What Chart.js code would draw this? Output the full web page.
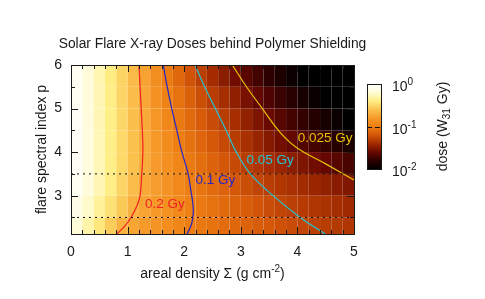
<!DOCTYPE html>
<html>
<head>
<meta charset="utf-8">
<script src="https://cdn.jsdelivr.net/npm/chart.js@4.4.1/dist/chart.umd.min.js"></script>
<style>
  body { margin: 0; background: #fff; }
  #wrap { position: relative; width: 485px; height: 299px; }
  #wrap canvas { position: absolute; left: 0; top: 0; }
</style>
</head>
<body>
<div id="wrap">
  <canvas id="main" width="485" height="299"></canvas>
  <canvas id="cbar" width="485" height="299"></canvas>
</div>
<script>
// heat map cells: sigma edges (g cm^-2), spectral index edges, dose rows (Gy) bottom -> top
const sigmaEdges = [0, 0.2, 0.4, 0.6, 0.8, 1, 1.2, 1.4, 1.6, 1.8, 2, 2.2, 2.4, 2.6, 2.8, 3, 3.2, 3.4, 3.6, 3.8, 4, 4.2, 4.4, 4.6, 4.8, 5];
const pEdges = [2.12, 2.5, 3, 3.5, 4, 4.5, 5, 5.5, 6];
const dose = [
  [0.657,0.493,0.371,0.278,0.209, 0.181,0.161,0.143,0.127,0.112, 0.100,0.0938,0.0881,0.0826,0.0774, 0.0726,0.0682,0.0640,0.0600,0.0562, 0.0528,0.0498,0.0480,0.0462,0.0446],
  [0.764,0.589,0.454,0.350,0.270, 0.208,0.178,0.156,0.136,0.119, 0.104,0.0943,0.0866,0.0797,0.0733, 0.0674,0.0620,0.0570,0.0524,0.0490, 0.0467,0.0445,0.0424,0.0404,0.0385],
  [0.877,0.676,0.520,0.400,0.308, 0.237,0.189,0.162,0.138,0.118, 0.1007,0.0900,0.0805,0.0721,0.0645, 0.0578,0.0517,0.0478,0.0448,0.0420, 0.0394,0.0369,0.0346,0.0324,0.0303],
  [0.881,0.683,0.530,0.410,0.318, 0.247,0.194,0.161,0.134,0.112, 0.0947,0.0828,0.0723,0.0632,0.0552, 0.0487,0.0441,0.0399,0.0362,0.0328, 0.0297,0.0269,0.0244,0.0221,0.0200],
  [0.881,0.683,0.530,0.410,0.318, 0.247,0.193,0.156,0.126,0.1016, 0.0869,0.0747,0.0642,0.0552,0.0477, 0.0416,0.0362,0.0316,0.0275,0.0241, 0.0214,0.0190,0.0168,0.0149,0.0132],
  [0.879,0.680,0.525,0.406,0.314, 0.243,0.188,0.148,0.116,0.0939, 0.0793,0.0669,0.0565,0.0479,0.0408, 0.0348,0.0298,0.0254,0.0221,0.0192, 0.0167,0.0146,0.0127,0.0111,0.0096],
  [0.877,0.676,0.520,0.400,0.308, 0.237,0.182,0.139,0.106,0.0857, 0.0705,0.0581,0.0481,0.0403,0.0338, 0.0283,0.0239,0.0205,0.0176,0.0151, 0.0130,0.0112,0.0096,0.0082,0.0071],
  [0.875,0.671,0.514,0.394,0.302, 0.232,0.174,0.128,0.0961,0.0766, 0.0611,0.0488,0.0400,0.0327,0.0268, 0.0224,0.0189,0.0159,0.0134,0.0113, 0.0095,0.0081,0.0068,0.0057,0.0048]
];

// dose contours (sigma, p)
const c02Sigma = [0.81, 0.95, 1.06, 1.16, 1.22, 1.25, 1.27, 1.26, 1.24, 1.22, 1.20];
const c02P     = [2.12, 2.3, 2.5, 2.75, 3, 3.5, 4, 4.5, 5, 5.5, 6];
const c01Sigma = [2.05, 2.13, 2.16, 2.15, 2.12, 2.07, 1.96, 1.87, 1.78, 1.70, 1.63];
const c01P     = [2.12, 2.35, 2.6, 2.85, 3.1, 3.5, 4, 4.5, 5, 5.5, 6];
const c005Sigma = [4.49, 4.05, 3.57, 3.17, 2.92, 2.74, 2.55, 2.36, 2.19];
const c005P     = [2.12, 2.5, 3, 3.5, 4, 4.5, 5, 5.5, 6];
const c0025Sigma = [5.0, 4.5, 3.99, 3.69, 3.38, 3.10, 2.85];
const c0025P     = [3.36, 3.73, 4.1, 4.46, 5.0, 5.5, 6];

const contourNames = ['0.2 Gy', '0.1 Gy', '0.05 Gy', '0.025 Gy'];
const labelSigma = [1.66, 2.55, 3.52, 4.49];
const labelP = [2.81, 3.35, 3.81, 4.32];

const guideP = [2.5, 3.5];
const xTicks = [0, 1, 2, 3, 4, 5];
const yTicks = [3, 4, 5, 6];
const cbTicks = [1, 0.1, 0.01];
const cbExp = ['0', '-1', '-2'];

const lineColors = ['#ee2222', '#2626c8', '#22c4d4', '#e6c200'];
const FONT = '"Liberation Sans", Arial, sans-serif';

const stops = [
  [0, [0, 0, 0]], [0.1, [44, 0, 0]], [0.2, [104, 8, 0]], [0.3, [164, 44, 0]],
  [0.4, [212, 86, 8]], [0.5, [238, 126, 18]], [0.6, [246, 154, 42]], [0.7, [251, 194, 78]],
  [0.8, [254, 238, 132]], [0.9, [255, 252, 214]], [1, [255, 255, 255]]
];
function colorFor(v) {
  let t = (Math.log10(v) + 2) / 2;
  t = Math.max(0, Math.min(1, t));
  for (let i = 1; i < stops.length; i++) {
    if (t <= stops[i][0]) {
      const a = stops[i - 1], b = stops[i];
      const f = (t - a[0]) / (b[0] - a[0]);
      const c = a[1].map((ch, k) => Math.round(ch + (b[1][k] - ch) * f));
      return `rgb(${c[0]},${c[1]},${c[2]})`;
    }
  }
  return '#fff';
}

// text with super/subscripts: parts = [[text, 0|1|-1], ...]
function richText(ctx, parts, x, y, align, size) {
  size = size || 14;
  const big = size + 'px ' + FONT, small = Math.round(size * 0.7) + 'px ' + FONT;
  let w = 0;
  parts.forEach(p => { ctx.font = p[1] ? small : big; w += ctx.measureText(p[0]).width; });
  let cx = align === 'center' ? x - w / 2 : align === 'right' ? x - w : x;
  ctx.textAlign = 'left';
  ctx.textBaseline = 'alphabetic';
  parts.forEach(p => {
    ctx.font = p[1] ? small : big;
    const dy = p[1] === 1 ? -6 : p[1] === -1 ? 3 : 0;
    ctx.fillText(p[0], cx, y + dy);
    cx += ctx.measureText(p[0]).width;
  });
}

function pts(xs, ys) { return xs.map((x, i) => ({ x: x, y: ys[i] })); }

const heatPlugin = {
  id: 'heat',
  beforeDatasetsDraw(chart) {
    const ctx = chart.ctx, xs = chart.scales.x, ys = chart.scales.y, a = chart.chartArea;
    ctx.save();
    ctx.beginPath();
    ctx.rect(a.left, a.top, a.right - a.left, a.bottom - a.top);
    ctx.clip();
    for (let i = 0; i < dose.length; i++) {
      const y0 = ys.getPixelForValue(pEdges[i + 1]), y1 = ys.getPixelForValue(pEdges[i]);
      for (let j = 0; j < dose[i].length; j++) {
        const x0 = xs.getPixelForValue(sigmaEdges[j]), x1 = xs.getPixelForValue(sigmaEdges[j + 1]);
        ctx.fillStyle = colorFor(dose[i][j]);
        ctx.fillRect(x0, y0, x1 - x0, y1 - y0);
      }
    }
    ctx.restore();
  },
  afterDatasetsDraw(chart) {
    const ctx = chart.ctx, xs = chart.scales.x, ys = chart.scales.y, a = chart.chartArea;
    ctx.save();
    // contour labels
    ctx.font = '13.5px ' + FONT;
    ctx.textAlign = 'center';
    ctx.textBaseline = 'middle';
    contourNames.forEach((t, i) => {
      ctx.fillStyle = lineColors[i];
      ctx.fillText(t, xs.getPixelForValue(labelSigma[i]), ys.getPixelForValue(labelP[i]));
    });
    // frame and inward ticks
    ctx.strokeStyle = '#1a1a1a';
    ctx.lineWidth = 1;
    ctx.beginPath();
    for (let v = 0; v <= 5.001; v += 0.2) {
      const px = Math.round(xs.getPixelForValue(v)) + 0.5;
      const len = Math.abs(v - Math.round(v)) < 0.01 ? 7 : 4;
      ctx.moveTo(px, a.bottom); ctx.lineTo(px, a.bottom - len);
      ctx.moveTo(px, a.top); ctx.lineTo(px, a.top + len);
    }
    for (let v = 2.5; v <= 6.001; v += 0.5) {
      const py = Math.round(ys.getPixelForValue(v)) + 0.5;
      const len = Math.abs(v - Math.round(v)) < 0.01 ? 7 : 4;
      ctx.moveTo(a.left, py); ctx.lineTo(a.left + len, py);
      ctx.moveTo(a.right, py); ctx.lineTo(a.right - len, py);
    }
    ctx.stroke();
    ctx.strokeRect(Math.round(a.left) + 0.5, Math.round(a.top) + 0.5, Math.round(a.right - a.left), Math.round(a.bottom - a.top));
    ctx.restore();
  },
  afterDraw(chart) {
    const ctx = chart.ctx, a = chart.chartArea;
    const cx = (a.left + a.right) / 2;
    ctx.save();
    ctx.fillStyle = '#1a1a1a';
    richText(ctx, [['Solar Flare X-ray Doses behind Polymer Shielding', 0]], cx, 48, 'center', 13.8);
    richText(ctx, [['areal density \u03a3 (g cm', 0], ['-2', 1], [')', 0]], cx, 278, 'center');
    ctx.translate(46, (a.top + a.bottom) / 2);
    ctx.rotate(-Math.PI / 2);
    richText(ctx, [['flare spectral index p', 0]], 0, 0, 'center');
    ctx.restore();
  }
};

const contourSets = [[c02Sigma, c02P], [c01Sigma, c01P], [c005Sigma, c005P], [c0025Sigma, c0025P]].map((c, i) => ({
  data: pts(c[0], c[1]),
  showLine: true,
  borderColor: lineColors[i],
  borderWidth: 1.2,
  pointRadius: 0,
  tension: 0.4,
  fill: false
}));
const guideSets = guideP.map(p => ({
  data: [{ x: 0, y: p }, { x: 5, y: p }],
  showLine: true,
  borderColor: '#111',
  borderWidth: 1,
  borderDash: [2, 4],
  pointRadius: 0
}));

const tickFont = { family: FONT, size: 14 };
new Chart(document.getElementById('main'), {
  type: 'scatter',
  data: { datasets: guideSets.concat(contourSets) },
  options: {
    responsive: false,
    animation: false,
    events: [],
    layout: { padding: { left: 0, right: 131, top: 65, bottom: 0 } },
    plugins: { legend: { display: false }, tooltip: { enabled: false } },
    scales: {
      x: {
        min: 0, max: 5,
        grid: { display: false, drawTicks: false },
        border: { display: false },
        ticks: { color: '#1a1a1a', font: tickFont, padding: 10, maxRotation: 0, autoSkip: false },
        afterBuildTicks(s) { s.ticks = xTicks.map(v => ({ value: v })); },
        afterFit(s) { s.height = 65; }
      },
      y: {
        min: 2.12, max: 6,
        grid: { display: false, drawTicks: false },
        border: { display: false },
        ticks: { color: '#1a1a1a', font: tickFont, padding: 9, autoSkip: false },
        afterBuildTicks(s) { s.ticks = yTicks.map(v => ({ value: v })); },
        afterFit(s) { s.width = 71; }
      }
    }
  },
  plugins: [heatPlugin]
});

// colour bar: its own log scale
const cbarPlugin = {
  id: 'cbar',
  beforeDatasetsDraw(chart) {
    const ctx = chart.ctx, ys = chart.scales.y, a = chart.chartArea;
    ctx.save();
    for (let py = Math.floor(a.top); py < a.bottom; py++) {
      ctx.fillStyle = colorFor(ys.getValueForPixel(py + 0.5));
      ctx.fillRect(a.left, py, a.right - a.left, 1);
    }
    // dashed level of the 0.1 Gy line
    const y1 = Math.round(ys.getPixelForValue(0.1)) + 0.5;
    ctx.strokeStyle = '#111';
    ctx.setLineDash([5, 3]);
    ctx.beginPath();
    ctx.moveTo(a.left, y1); ctx.lineTo(a.right, y1);
    ctx.stroke();
    ctx.setLineDash([]);
    ctx.strokeStyle = '#1a1a1a';
    ctx.strokeRect(Math.round(a.left) + 0.5, Math.round(a.top) + 0.5, Math.round(a.right - a.left), Math.round(a.bottom - a.top));
    ctx.fillStyle = '#1a1a1a';
    cbTicks.forEach((v, i) => {
      const py = ys.getPixelForValue(v);
      richText(ctx, [['10', 0], [cbExp[i], 1]], a.right + 11, py + 7, 'left');
    });
    ctx.translate(447, (a.top + a.bottom) / 2);
    ctx.rotate(-Math.PI / 2);
    richText(ctx, [['dose (W', 0], ['31', -1], [' Gy)', 0]], 0, 0, 'center');
    ctx.restore();
  }
};
new Chart(document.getElementById('cbar'), {
  type: 'scatter',
  data: { datasets: [] },
  options: {
    responsive: false,
    animation: false,
    events: [],
    layout: { padding: { left: 367, right: 104, top: 84, bottom: 130 } },
    plugins: { legend: { display: false }, tooltip: { enabled: false } },
    scales: {
      x: { display: false, min: 0, max: 1 },
      y: { type: 'logarithmic', display: false, min: 0.01, max: 1 }
    }
  },
  plugins: [cbarPlugin]
});
</script>
</body>
</html>
